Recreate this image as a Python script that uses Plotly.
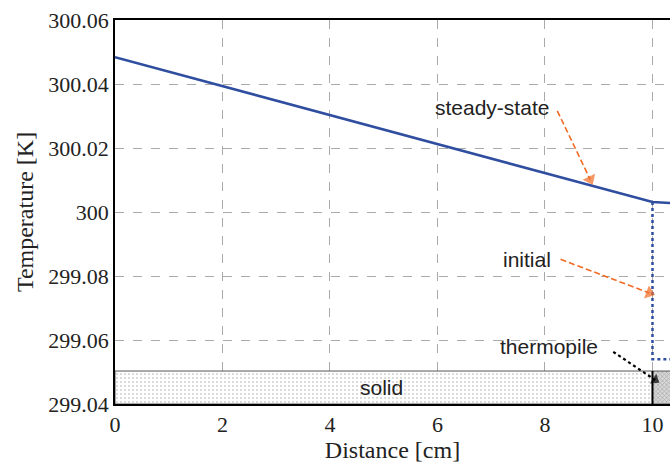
import plotly.graph_objects as go

# --- data ---
steady_x = [0, 10, 10.33]
steady_T = [300.0484, 300.0031, 300.0028]
initial_x = [10, 10, 10.33]
initial_T = [300.0031, 299.9540, 299.9540]
solid_x = [0, 10, 10, 0, 0]
solid_T = [299.94, 299.94, 299.9503, 299.9503, 299.94]
thermo_x = [10, 10.4, 10.4, 10, 10]
thermo_T = [299.94, 299.94, 299.9503, 299.9503, 299.94]
y_tickvals = [299.94, 299.96, 299.98, 300.00, 300.02, 300.04, 300.06]
y_ticktext = ["299.04", "299.06", "299.08", "300", "300.02", "300.04", "300.06"]
x_tickvals = [0, 2, 4, 6, 8, 10]

BLUE = "#2f4ea0"
ORANGE = "#f26a24"
SANS = "Liberation Sans, Arial, sans-serif"
SERIF = "Liberation Serif, Times New Roman, serif"

fig = go.Figure()

fig.add_trace(go.Scatter(x=solid_x, y=solid_T, mode="lines", fill="toself",
                         line=dict(color="#555555", width=1),
                         fillcolor="white",
                         fillpattern=dict(shape=".", fgcolor="#a0a0a0", bgcolor="#ffffff",
                                          size=4, solidity=0.2),
                         hoverinfo="skip", showlegend=False))
fig.add_trace(go.Scatter(x=thermo_x, y=thermo_T, mode="lines", fill="toself",
                         line=dict(color="#555555", width=1),
                         fillpattern=dict(shape="x", fgcolor="#777777", bgcolor="#d8d8d8",
                                          size=3, solidity=0.4),
                         hoverinfo="skip", showlegend=False))
# boundary line at x=10
fig.add_trace(go.Scatter(x=[10, 10], y=[299.94, 299.9503], mode="lines",
                         line=dict(color="black", width=2), hoverinfo="skip", showlegend=False))

fig.add_trace(go.Scatter(x=steady_x, y=steady_T, mode="lines",
                         line=dict(color=BLUE, width=2.5), showlegend=False))
fig.add_trace(go.Scatter(x=initial_x, y=initial_T, mode="lines",
                         line=dict(color=BLUE, width=2.5, dash="dot"), showlegend=False))

# annotation arrows (dashed shafts + heads)
def arrow(x0, y0, x1, y1, color, dash, width=1.6, size=12):
    fig.add_trace(go.Scatter(x=[x0, x1], y=[y0, y1], mode="lines",
                             line=dict(color=color, width=width, dash=dash),
                             hoverinfo="skip", showlegend=False))
    fig.add_trace(go.Scatter(x=[x0, x1], y=[y0, y1], mode="markers",
                             marker=dict(symbol="triangle-up", size=[0, size], color=color,
                                         angleref="previous", line=dict(width=0)),
                             hoverinfo="skip", showlegend=False))

arrow(8.23, 300.0316, 8.84, 300.0102, ORANGE, "6px,3px")
arrow(8.29, 299.9852, 9.94, 299.9747, ORANGE, "6px,3px")
arrow(9.27, 299.9563, 10.05, 299.9475, "black", "dot", width=2.2, size=10)

ann_font = dict(family=SANS, size=21, color="#222")
fig.add_annotation(x=7.02, y=300.0328, text="steady-state", showarrow=False, font=ann_font)
fig.add_annotation(x=7.67, y=299.9853, text="initial", showarrow=False, font=ann_font)
fig.add_annotation(x=8.08, y=299.9581, text="thermopile", showarrow=False, font=ann_font)
fig.add_annotation(x=4.96, y=299.9453, text="solid", showarrow=False, font=ann_font)

fig.update_layout(
    width=670, height=467,
    margin=dict(l=115, r=0, t=20, b=63),
    plot_bgcolor="white", paper_bgcolor="white",
    xaxis=dict(range=[0, 10.326], tickvals=x_tickvals, showline=True, linecolor="black",
               linewidth=1.5, mirror=True, showgrid=True, gridcolor="#aaaaaa",
               griddash="dash", gridwidth=1, zeroline=False, ticks="",
               tickfont=dict(family=SERIF, size=22, color="#222"),
               title=dict(text="Distance [cm]", font=dict(family=SERIF, size=24, color="#222"),
                          standoff=4)),
    yaxis=dict(range=[299.94, 300.06], tickvals=y_tickvals, ticktext=y_ticktext,
               showline=True, linecolor="black", linewidth=1.5, mirror=False,
               showgrid=True, gridcolor="#aaaaaa", griddash="dash", gridwidth=1,
               zeroline=False, ticks="",
               tickfont=dict(family=SERIF, size=22, color="#222"),
               title=dict(text="Temperature [K]", font=dict(family=SERIF, size=24, color="#222"),
                          standoff=8)),
)

fig.write_html("out.html")
